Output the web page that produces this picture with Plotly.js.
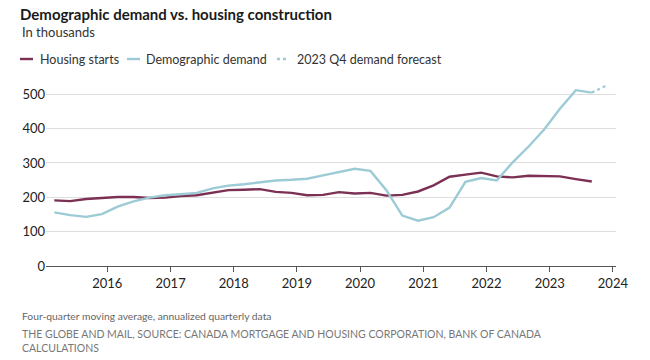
<!DOCTYPE html>
<html>
<head>
<meta charset="utf-8">
<script src="https://cdn.plot.ly/plotly-3.0.1.min.js"></script>
<style>
  html, body { margin: 0; padding: 0; background: #fff; }
  #chart { width: 650px; height: 360px; }
</style>
</head>
<body>
<div id="chart"></div>
<script>
// Quarterly observations (four-quarter moving average, annualized, thousands)
const quarters = [
  "2015-03-01","2015-06-01","2015-09-01","2015-12-01",
  "2016-03-01","2016-06-01","2016-09-01","2016-12-01",
  "2017-03-01","2017-06-01","2017-09-01","2017-12-01",
  "2018-03-01","2018-06-01","2018-09-01","2018-12-01",
  "2019-03-01","2019-06-01","2019-09-01","2019-12-01",
  "2020-03-01","2020-06-01","2020-09-01","2020-12-01",
  "2021-03-01","2021-06-01","2021-09-01","2021-12-01",
  "2022-03-01","2022-06-01","2022-09-01","2022-12-01",
  "2023-03-01","2023-06-01","2023-09-01"
];
const housingStarts = [
  191, 189, 195, 199,
  201, 201, 198, 199,
  204, 206, 213, 221,
  222, 224, 216, 213,
  206, 207, 215, 211,
  213, 205, 207, 217,
  235, 260, 266, 272,
  261, 258, 263, 263,
  261, 253, 246
];
const demographicDemand = [
  156, 148, 143, 151,
  173, 188, 199, 206,
  209, 213, 226, 234,
  238, 244, 249, 251,
  254, 264, 273, 283,
  277, 221, 147, 132,
  142, 170, 245, 256,
  249, 302, 348, 398,
  458, 512, 505
];
const forecastQuarters = ["2023-09-01", "2023-12-01"];
const forecastDemand = [505, 527];

const yearTicks = [2016, 2017, 2018, 2019, 2020, 2021, 2022, 2023, 2024];
const yTicks = [0, 100, 200, 300, 400, 500];

const legendLabels = ["Housing starts", "Demographic demand", "2023 Q4 demand forecast"];
const titleText = "Demographic demand vs. housing construction";
const subtitleText = "In thousands";
const noteText = "Four-quarter moving average, annualized quarterly data";
const sourceText = "THE GLOBE AND MAIL, SOURCE: CANADA MORTGAGE AND HOUSING CORPORATION, BANK OF CANADA<br>CALCULATIONS";

const PURPLE = "#7b3054";
const BLUE = "#9ccbd5";
const FONT = "Lato, 'Open Sans', sans-serif";

// Layout geometry (pixels)
const W = 650, H = 360;
const M = { l: 46, r: 34, t: 84, b: 94 };
const PW = W - M.l - M.r, PH = H - M.t - M.b;
const px = x => (x - M.l) / PW;      // pixel x -> paper x
const py = y => (H - M.b - y) / PH;  // pixel y -> paper y

const traces = [
  {
    x: quarters, y: housingStarts, name: legendLabels[0], type: "scatter", mode: "lines",
    line: { color: PURPLE, width: 2.4 }, hoverinfo: "x+y"
  },
  {
    x: quarters, y: demographicDemand, name: legendLabels[1], type: "scatter", mode: "lines",
    line: { color: BLUE, width: 2.4 }, hoverinfo: "x+y"
  },
  {
    x: forecastQuarters, y: forecastDemand, name: legendLabels[2], type: "scatter", mode: "lines",
    line: { color: BLUE, width: 2.2, dash: "dot" }, hoverinfo: "x+y"
  }
];

// Custom legend (short line samples, like the original)
const legendItems = [
  { x0: 20, x1: 33, tx: 38, color: PURPLE, dash: "solid", label: legendLabels[0] },
  { x0: 127, x1: 140, tx: 144, color: BLUE, dash: "solid", label: legendLabels[1] },
  { x0: 277, x1: 289, tx: 295, color: BLUE, dash: "dot", label: legendLabels[2] }
];
const legendY = 59;

const shapes = legendItems.map(it => ({
  type: "line", xref: "paper", yref: "paper",
  x0: px(it.x0), x1: px(it.x1), y0: py(legendY), y1: py(legendY),
  line: { color: it.color, width: 2.4, dash: it.dash }
}));

const annotations = legendItems.map(it => ({
  xref: "paper", yref: "paper", x: px(it.tx), y: py(legendY),
  xanchor: "left", yanchor: "middle", showarrow: false,
  text: it.label, font: { family: FONT, size: 12.5, color: "#333" }
}));

annotations.push({
  xref: "paper", yref: "paper", x: px(20), y: py(32),
  xanchor: "left", yanchor: "middle", showarrow: false,
  text: subtitleText, font: { family: FONT, size: 13, color: "#333" }
});
annotations.push({
  xref: "paper", yref: "paper", x: px(20), y: py(316),
  xanchor: "left", yanchor: "middle", showarrow: false,
  text: noteText, font: { family: FONT, size: 10.3, color: "#666" }
});
annotations.push({
  xref: "paper", yref: "paper", x: px(20), y: py(326),
  xanchor: "left", yanchor: "top", showarrow: false, align: "left",
  text: sourceText, font: { family: FONT, size: 10.5, color: "#777" }
});

const layout = {
  width: W, height: H,
  margin: M,
  paper_bgcolor: "#fff", plot_bgcolor: "#fff",
  showlegend: false,
  font: { family: FONT, color: "#333" },
  title: {
    text: "<b>" + titleText + "</b>",
    xref: "container", yref: "container",
    x: 20 / W, y: 1 - 15 / H, xanchor: "left", yanchor: "middle",
    font: { family: FONT, size: 15, color: "#1a1a1a" }
  },
  xaxis: {
    type: "date",
    range: ["2015-01-12", "2024-01-19"],
    tickvals: yearTicks.map(y => y + "-01-01"),
    ticktext: yearTicks.map(String),
    showgrid: false, zeroline: false,
    showline: true, linecolor: "#555", linewidth: 1,
    ticks: "outside", ticklen: 5, tickcolor: "#555", tickwidth: 1,
    tickfont: { family: FONT, size: 13, color: "#222" },
    fixedrange: true
  },
  yaxis: {
    range: [0, 530],
    tickvals: yTicks, ticktext: yTicks.map(String),
    showgrid: true, gridcolor: "#dedede", gridwidth: 1,
    zeroline: false, showline: false, ticks: "",
    tickfont: { family: FONT, size: 13, color: "#222" },
    fixedrange: true
  },
  shapes: shapes,
  annotations: annotations
};

Plotly.newPlot("chart", traces, layout, { displayModeBar: false, staticPlot: true });
</script>
</body>
</html>
